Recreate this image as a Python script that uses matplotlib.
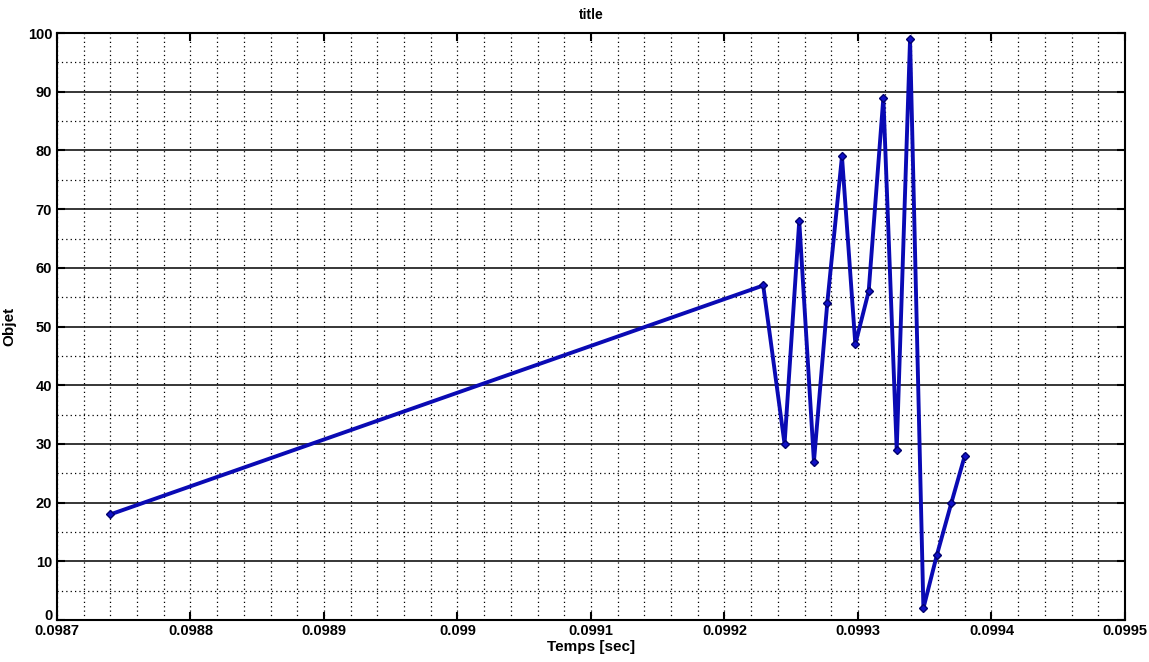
import matplotlib.pyplot as plt
import matplotlib.transforms as mtransforms
from matplotlib.ticker import MultipleLocator, FuncFormatter

# Data
temps = [0.098740, 0.099229, 0.099245, 0.099256, 0.099267, 0.099277, 0.099288, 0.099298,
         0.099308, 0.099319, 0.099329, 0.099339, 0.099349, 0.099359, 0.099370, 0.099380]
objet = [18, 57, 30, 68, 27, 54, 79, 47, 56, 89, 29, 99, 2, 11, 20, 28]

x_ticks = [0.0987, 0.0988, 0.0989, 0.0990, 0.0991, 0.0992, 0.0993, 0.0994, 0.0995]
y_ticks = [0, 10, 20, 30, 40, 50, 60, 70, 80, 90, 100]

plt.rcParams['font.family'] = ['Liberation Sans Narrow', 'Liberation Sans', 'DejaVu Sans']
plt.rcParams['font.weight'] = 'bold'

fig = plt.figure(figsize=(11.49, 6.62), dpi=100)
ax = fig.add_axes([0.0496, 0.0634, 0.9295, 0.8866])

ax.plot(temps, objet, color='#0a0ab4', linewidth=2.8, marker='D', markersize=4.5,
        markerfacecolor='#1010c8', markeredgecolor='#00006e', markeredgewidth=1)

ax.set_xlim(0.0987, 0.0995)
ax.set_ylim(0, 100)
ax.set_xticks(x_ticks)
ax.set_yticks(y_ticks)
ax.xaxis.set_major_formatter(FuncFormatter(lambda v, p: f"{v:g}"))
ax.xaxis.set_minor_locator(MultipleLocator(0.00002))
ax.yaxis.set_minor_locator(MultipleLocator(5))

# grid: vertical lines all dotted, horizontal major solid + minor dotted
ax.grid(axis='x', which='both', color='black', linestyle=(0, (1, 2.5)), linewidth=0.9)
ax.grid(axis='y', which='major', color='black', linestyle='-', linewidth=1.1)
ax.grid(axis='y', which='minor', color='black', linestyle=(0, (1, 2.5)), linewidth=0.9)

ax.tick_params(which='major', direction='in', length=6, width=1.5, top=True, right=True,
               labelsize=10.5)
ax.tick_params(axis='x', which='major', pad=3)
ax.tick_params(which='minor', length=0)
for lab in ax.get_xticklabels() + ax.get_yticklabels():
    lab.set_fontweight('bold')
for s in ax.spines.values():
    s.set_linewidth(1.5)

# nudge the "0" label up a little so it sits above 0.0987 like in the original
zero_lab = ax.get_yticklabels()[0]
zero_lab.set_transform(zero_lab.get_transform() +
                       mtransforms.ScaledTranslation(0, 4 / 72, fig.dpi_scale_trans))

ax.set_title('title', fontsize=10, fontweight='bold', pad=10)
ax.set_xlabel('Temps [sec]', fontsize=11, fontweight='bold', labelpad=1)
ax.set_ylabel('Objet', fontsize=11, fontweight='bold', labelpad=8)

plt.savefig('out.png', dpi=100)
